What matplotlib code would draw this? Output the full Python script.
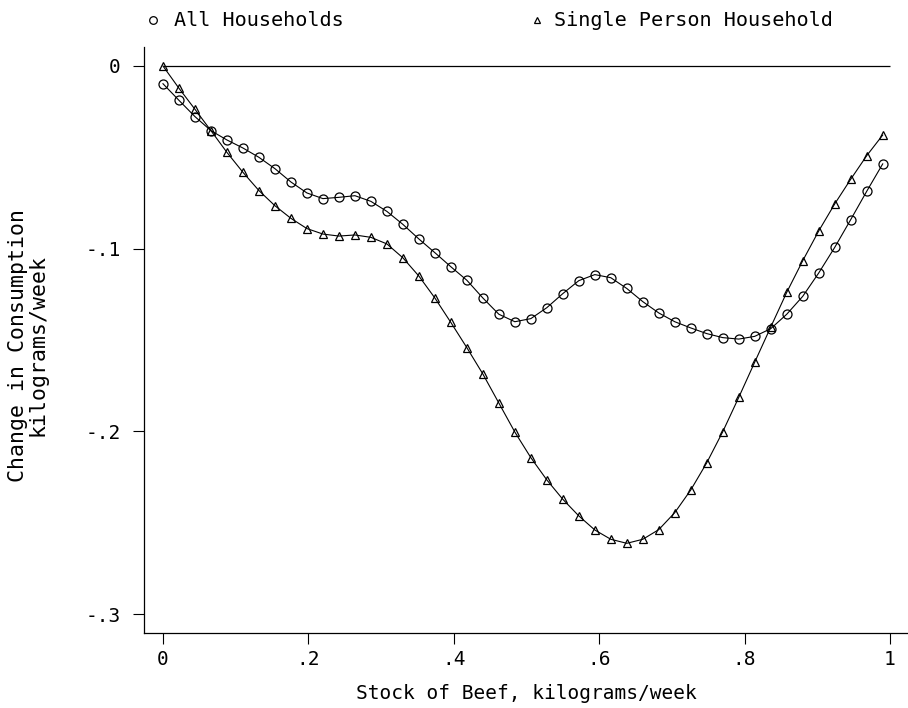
import matplotlib
matplotlib.use("Agg")
import matplotlib.pyplot as plt
from matplotlib.lines import Line2D

# Data
stock = [0.000, 0.022, 0.044, 0.066, 0.088, 0.110, 0.132, 0.154, 0.176, 0.198,
         0.220, 0.242, 0.264, 0.286, 0.308, 0.330, 0.352, 0.374, 0.396, 0.418,
         0.440, 0.462, 0.484, 0.506, 0.528, 0.550, 0.572, 0.594, 0.616, 0.638,
         0.660, 0.682, 0.704, 0.726, 0.748, 0.770, 0.792, 0.814, 0.836, 0.858,
         0.880, 0.902, 0.924, 0.946, 0.968, 0.990]

all_households = [-0.0097, -0.0188, -0.0277, -0.0354, -0.0405, -0.0449, -0.0500, -0.0562,
                  -0.0635, -0.0695, -0.0726, -0.0719, -0.0710, -0.0741, -0.0796, -0.0867,
                  -0.0947, -0.1022, -0.1099, -0.1173, -0.1270, -0.1359, -0.1400, -0.1383,
                  -0.1323, -0.1246, -0.1175, -0.1142, -0.1159, -0.1218, -0.1290, -0.1352,
                  -0.1400, -0.1434, -0.1465, -0.1487, -0.1495, -0.1480, -0.1438, -0.1359,
                  -0.1261, -0.1133, -0.0993, -0.0841, -0.0686, -0.0536]

single_person = [0.0000, -0.0122, -0.0237, -0.0354, -0.0473, -0.0582, -0.0682, -0.0765,
                 -0.0834, -0.0890, -0.0920, -0.0931, -0.0925, -0.0938, -0.0974, -0.1050,
                 -0.1150, -0.1270, -0.1404, -0.1542, -0.1686, -0.1845, -0.2004, -0.2144,
                 -0.2266, -0.2372, -0.2463, -0.2540, -0.2591, -0.2613, -0.2591, -0.2538,
                 -0.2445, -0.2321, -0.2172, -0.2002, -0.1814, -0.1621, -0.1429, -0.1239,
                 -0.1066, -0.0903, -0.0755, -0.0620, -0.0491, -0.0378]

x_ticks = [0, 0.2, 0.4, 0.6, 0.8, 1.0]
x_tick_labels = ["0", ".2", ".4", ".6", ".8", "1"]
y_ticks = [0, -0.1, -0.2, -0.3]
y_tick_labels = ["0", "-.1", "-.2", "-.3"]
series_labels = ["All Households", "Single Person Household"]

FONT = "DejaVu Sans Mono"
plt.rcParams["font.family"] = FONT

fig = plt.figure(figsize=(9.08, 7.08), dpi=100)
ax = fig.add_axes([144 / 908, 1 - 633 / 708, (908 - 144) / 908, (633 - 47) / 708])

ax.hlines(0, x_ticks[0], x_ticks[-1], color="black", linewidth=0.9, zorder=1)

ax.plot(stock, all_households, color="black", linewidth=0.8, marker="o",
        markersize=6.5, markerfacecolor="none", markeredgecolor="black",
        markeredgewidth=0.9, zorder=3)
ax.plot(stock, single_person, color="black", linewidth=0.8, marker="^",
        markersize=6, markerfacecolor="none", markeredgecolor="black",
        markeredgewidth=0.9, zorder=3)

ax.set_xlim(-0.0261, 1.0248)
ax.set_ylim(-0.3104, 0.0104)

for s in ["top", "right"]:
    ax.spines[s].set_visible(False)
for s in ["left", "bottom"]:
    ax.spines[s].set_linewidth(0.9)

ax.set_xticks(x_ticks)
ax.set_xticklabels(x_tick_labels)
ax.set_yticks(y_ticks)
ax.set_yticklabels(y_tick_labels)
ax.tick_params(axis="both", direction="out", length=8, width=0.8, labelsize=14)
ax.tick_params(axis="x", pad=4)
ax.tick_params(axis="y", pad=9)

ax.set_xlabel("Stock of Beef, kilograms/week", fontsize=14, labelpad=11)
fig.text(28 / 908, 1 - 345 / 708, "Change in Consumption\nkilograms/week",
         rotation=90, ha="center", va="center", multialignment="center",
         fontsize=15.5, linespacing=0.95)

# Legend at the top
ly = 1 - 20 / 708
fig.add_artist(Line2D([153 / 908], [ly], transform=fig.transFigure, marker="o",
                      markersize=5.5, markerfacecolor="none", markeredgecolor="black",
                      markeredgewidth=0.9, linestyle="none"))
fig.text(174 / 908, ly, series_labels[0], ha="left", va="center", fontsize=14.5)
fig.add_artist(Line2D([537 / 908], [ly], transform=fig.transFigure, marker="^",
                      markersize=5, markerfacecolor="none", markeredgecolor="black",
                      markeredgewidth=0.9, linestyle="none"))
fig.text(554 / 908, ly, series_labels[1], ha="left", va="center", fontsize=14.5)

fig.savefig("out.png", dpi=100)
